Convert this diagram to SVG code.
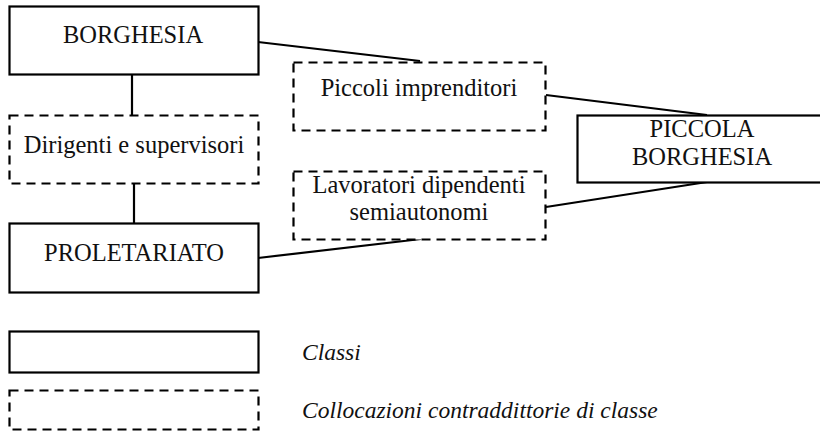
<svg xmlns="http://www.w3.org/2000/svg" width="820" height="431" viewBox="0 0 820 431">
<style>
.cls{fill:#fff;stroke:#000;stroke-width:2.2}
.ctr{fill:#fff;stroke:#000;stroke-width:2.2;stroke-dasharray:9 6}
.lnk{stroke:#000;stroke-width:2.2;fill:none}
text{font-size:24.5px;fill:#111}
.c{text-anchor:middle}
.i{font-style:italic;font-size:23.5px}
</style>
<rect width="820" height="431" fill="#fff"/>
<g id="connectors">
<line class="lnk" x1="258" y1="42" x2="420" y2="61"/>
<line class="lnk" x1="546" y1="95" x2="707" y2="115"/>
<line class="lnk" x1="546" y1="207" x2="707" y2="182"/>
<line class="lnk" x1="421" y1="239" x2="258" y2="258"/>
<line class="lnk" x1="132" y1="74" x2="132" y2="115"/>
<line class="lnk" x1="134" y1="183" x2="134" y2="223"/>
</g>
<g font-family="Liberation Serif, Times New Roman, serif">
<g id="borghesia">
<rect class="cls" x="9.5" y="6.5" width="249" height="68"/>
<text class="c" x="133" y="43">BORGHESIA</text>
</g>
<g id="dirigenti">
<rect class="ctr" x="9.5" y="115.5" width="249" height="68"/>
<text class="c" x="134" y="153">Dirigenti e supervisori</text>
</g>
<g id="proletariato">
<rect class="cls" x="9.5" y="223.5" width="249" height="69"/>
<text class="c" x="134" y="261">PROLETARIATO</text>
</g>
<g id="piccoli">
<rect class="ctr" x="293.5" y="62.5" width="252" height="68"/>
<text class="c" x="419" y="96">Piccoli imprenditori</text>
</g>
<g id="lavoratori">
<rect class="ctr" x="293.5" y="171.5" width="252" height="68"/>
<text class="c" x="419" y="193">Lavoratori dipendenti</text>
<text class="c" x="419" y="220">semiautonomi</text>
</g>
<g id="piccola-borghesia">
<rect class="cls" x="577.5" y="115.5" width="260" height="67"/>
<text class="c" x="702" y="137">PICCOLA</text>
<text class="c" x="702" y="165">BORGHESIA</text>
</g>
<g id="legend-classi">
<rect class="cls" x="9.5" y="331.5" width="249" height="41"/>
<text class="i" x="302" y="360">Classi</text>
</g>
<g id="legend-contraddittorie">
<rect class="ctr" x="9.5" y="390.5" width="249" height="39"/>
<text class="i" x="302" y="418">Collocazioni contraddittorie di classe</text>
</g>
</g>
</svg>
